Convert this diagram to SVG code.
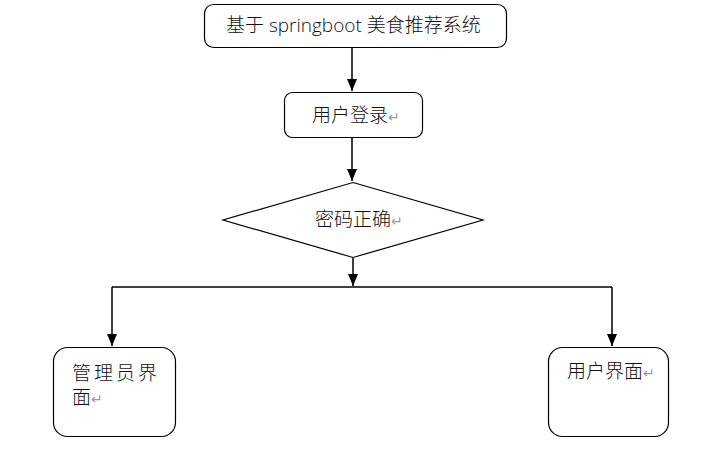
<svg xmlns="http://www.w3.org/2000/svg" width="714" height="458" viewBox="0 0 714 458">
<style>
.box{fill:#fff;stroke:#000;stroke-width:1.2}
.t{font-family:"Open Sans","Noto Sans CJK SC",sans-serif;font-size:19px;font-weight:300;fill:#111}
.r{fill:#999;font-size:14px}
.ln{fill:none;stroke:#000;stroke-width:1.5}
</style>
<defs>
<marker id="ah" markerWidth="12" markerHeight="10" refX="12" refY="5" orient="auto" markerUnits="userSpaceOnUse" viewBox="0 0 12 10">
<path d="M0,0 L12,5 L0,10 Z" fill="#000"/>
</marker>
</defs>
<rect width="714" height="458" fill="#fff"/>
<g id="title">
<rect class="box" x="204.5" y="4.5" width="302" height="43" rx="9"/>
<text class="t" x="226" y="32">基于 springboot 美食推荐系统</text>
</g>
<g id="login">
<rect class="box" x="284.5" y="92.5" width="138" height="45" rx="8"/>
<text class="t" x="312" y="122">用户登录<tspan class="r">↵</tspan></text>
</g>
<g id="check">
<polygon class="box" points="353,182.5 483,220 353,257.5 223,220"/>
<text class="t" x="315" y="226">密码正确<tspan class="r">↵</tspan></text>
</g>
<g id="admin">
<rect class="box" x="53.5" y="347.5" width="122" height="89" rx="14"/>
<text class="t" x="72" y="380" letter-spacing="3">管理员界</text>
<text class="t" x="72" y="404">面<tspan class="r">↵</tspan></text>
</g>
<g id="user">
<rect class="box" x="548.5" y="347.5" width="120" height="89" rx="14"/>
<text class="t" x="567" y="378">用户界面<tspan class="r">↵</tspan></text>
</g>
<g id="connectors">
<path class="ln" d="M352,48 V91" marker-end="url(#ah)"/>
<path class="ln" d="M352,138 V181" marker-end="url(#ah)"/>
<path class="ln" d="M353,258 V286" marker-end="url(#ah)"/>
<path class="ln" d="M112,287 H612"/>
<path class="ln" d="M112,287 V346" marker-end="url(#ah)"/>
<path class="ln" d="M612,287 V346" marker-end="url(#ah)"/>
</g>
</svg>
